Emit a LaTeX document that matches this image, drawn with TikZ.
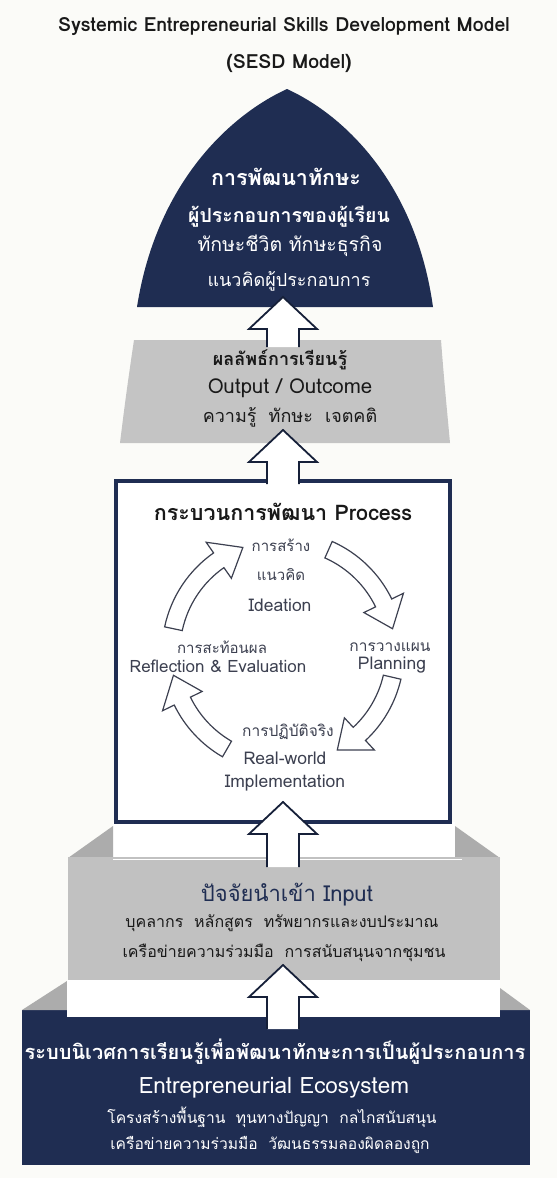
\documentclass[tikz,border=0pt]{standalone}
\usepackage{fontspec}
\newfontfamily\thaifont[Script=Thai]{Loma}
\usetikzlibrary{calc,positioning}
\definecolor{navy}{RGB}{31,45,82}
\definecolor{boxgray}{RGB}{196,196,196}
\definecolor{sidegray}{RGB}{172,172,172}
\definecolor{inkgray}{RGB}{60,64,80}
\definecolor{paper}{RGB}{251,251,248}
\newcommand{\tf}[1]{\thaifont\fontsize{#1}{#1}\selectfont}
\tikzset{
  lbl/.style = {inner sep=0pt, align=center},
  lbl_w/.style = {lbl, white},% texte blanc sur bleu
  lbl_d/.style = {lbl, black!90},% texte noir
  lbl_c/.style = {lbl, inkgray},% texte du cycle
  arr_up/.style = {fill=white, draw=navy!70!black, line width=1.8pt,
    line join=miter},
  arr_cyc/.style = {fill=white, draw=inkgray, line width=1.2pt,
    line join=miter}
}
% fleche creuse vers le haut: #1 pointe, #2 longueur du fut
\newcommand{\hollowup}[2]{%
  \filldraw[arr_up] ($(#1)+(-16,32+#2)$) -- ++(0,-#2) -- ++(-18,0) -- (#1)
    -- ++(34,32) -- ++(-18,0) -- ++(0,#2);}
% fleche courbe du cycle: #1 angle de depart, #2 angle de la pointe
\newcommand{\cycarrow}[2]{%
  \filldraw[arr_cyc] ($(cyc)+(-#1:121)$)
    arc[start angle=-#1, end angle=-#2-14, radius=121]
    -- ($(cyc)+(-#2-14:134)$) -- ($(cyc)+(-#2:112)$)
    -- ($(cyc)+(-#2-14:90)$) -- ($(cyc)+(-#2-14:103)$)
    arc[start angle=-#2-14, end angle=-#1, radius=103] -- cycle;}

\begin{document}
\begin{tikzpicture}[x=1pt,y=-1pt]
        \useasboundingbox (0,0) rectangle (557,1178);
        \fill[paper] (0,0) rectangle (557,1178);

        \node[lbl_d, font=\tf{19.5}\bfseries] (title) at (284,27) {Systemic Entrepreneurial Skills Development Model};
        \node[lbl_d, font=\tf{19.5}\bfseries] (title2) at (289,63) {(SESD Model)};

        % dome
        \fill[navy] (137,307) .. controls (156,185) and (228,116) .. (287,89)
          .. controls (346,116) and (416,185) .. (433,307) -- cycle;
        \node[lbl_w, font=\tf{21.5}\bfseries] (d1) at (286,177) {การพัฒนาทักษะ};
        \node[lbl_w, font=\tf{19.5}\bfseries] (d2) at (289,217) {ผู้ประกอบการของผู้เรียน};
        \node[lbl_w, font=\tf{19.5}] (d3) at (290,246) {ทักษะชีวิต ทักษะธุรกิจ};
        \node[lbl_w, font=\tf{18}] (d4) at (289,281) {แนวคิดผู้ประกอบการ};

        % output
        \fill[boxgray] (134,340) .. controls (128,380) and (124,410) .. (120,443) -- (450,443)
          .. controls (447,410) and (444,380) .. (441,340) -- cycle;
        \node[lbl_d, font=\tf{18}\bfseries] (o1) at (280,360) {ผลลัพธ์การเรียนรู้};
        \node[lbl_d, font=\tf{20.5}] (o2) at (290,388) {Output / Outcome};
        \node[lbl_d, font=\tf{18}] (o3) at (290,417) {ความรู้~~ทักษะ~~เจตคติ};
        \coordinate (t1) at (283,297);
        \hollowup{t1}{18}

        % input, back panel
        \fill[white] (113,822) rectangle (455,858);
        \fill[sidegray] (68,858) -- (113,826) -- (113,858) -- cycle;
        \fill[sidegray] (455,826) -- (500,858) -- (455,858) -- cycle;

        % process
        \draw[navy, line width=3.5pt, fill=white] (116,481) rectangle (450,822);
        \node[lbl_d, font=\tf{21.5}\bfseries] (p0) at (283,512) {กระบวนการพัฒนา Process};
        \coordinate (t2) at (283,430);
        \hollowup{t2}{22}

        \coordinate (cyc) at (283,652);
        \cycarrow{168}{111}
        \cycarrow{66}{12}
        \cycarrow{347}{299}
        \cycarrow{240}{192}
        \node[lbl_c, font=\tf{15}] (c1) at (281,545) {การสร้าง};
        \node[lbl_c, font=\tf{15}] (c2) at (281,575) {แนวคิด};
        \node[lbl_c, font=\tf{17.5}] (c3) at (280,605) {Ideation};
        \node[lbl_c, font=\tf{15.5}] (c4) at (390,647) {การวางแผน};
        \node[lbl_c, font=\tf{17.5}] (c5) at (392,665) {Planning};
        \node[lbl_c, font=\tf{15.5}] (c6) at (288,732) {การปฏิบัติจริง};
        \node[lbl_c, font=\tf{17.5}] (c7) at (285,758) {Real-world};
        \node[lbl_c, font=\tf{17.5}] (c8) at (285,783) {Implementation};
        \node[lbl_c, font=\tf{15}] (c9) at (222,647) {การสะท้อนผล};
        \node[lbl_c, font=\tf{17}] (c10) at (218,666) {Reflection \& Evaluation};

        % input, front face
        \fill[boxgray!105] (68,857) rectangle (500,980);
        \draw[white, line width=1pt] (113,859) -- (462,859);
        \coordinate (t3) at (283,802);
        \hollowup{t3}{33}
        \node[lbl, navy, font=\tf{22}] (i1) at (287,895) {ปัจจัยนำเข้า Input};
        \node[lbl_d, font=\tf{16}] (i2) at (282,923) {บุคลากร~~หลักสูตร~~ทรัพยากรและงบประมาณ};
        \node[lbl_d, font=\tf{16}] (i3) at (284,953) {เครือข่ายความร่วมมือ~~การสนับสนุนจากชุมชน};

        % ecosystem
        \fill[navy] (22,1010) rectangle (530,1165);
        \fill[sidegray] (22,1010) -- (67,981) -- (67,1010) -- cycle;
        \fill[sidegray] (500,988) -- (530,1010) -- (500,1010) -- cycle;
        \fill[white] (67,980) rectangle (500,1017);
        \coordinate (t4) at (283,965);
        \hollowup{t4}{32}
        \node[lbl_w, font=\tf{20}\bfseries] (e1) at (275,1052) {ระบบนิเวศการเรียนรู้เพื่อพัฒนาทักษะการเป็นผู้ประกอบการ};
        \node[lbl_w, font=\tf{22.5}] (e2) at (274,1088) {Entrepreneurial Ecosystem};
        \node[lbl_w, font=\tf{15.6}] (e3) at (272,1117) {โครงสร้างพื้นฐาน~~ทุนทางปัญญา~~กลไกสนับสนุน};
        \node[lbl_w, font=\tf{15.6}] (e4) at (270,1145) {เครือข่ายความร่วมมือ~~วัฒนธรรมลองผิดลองถูก};

        \end{tikzpicture}
\end{document}
